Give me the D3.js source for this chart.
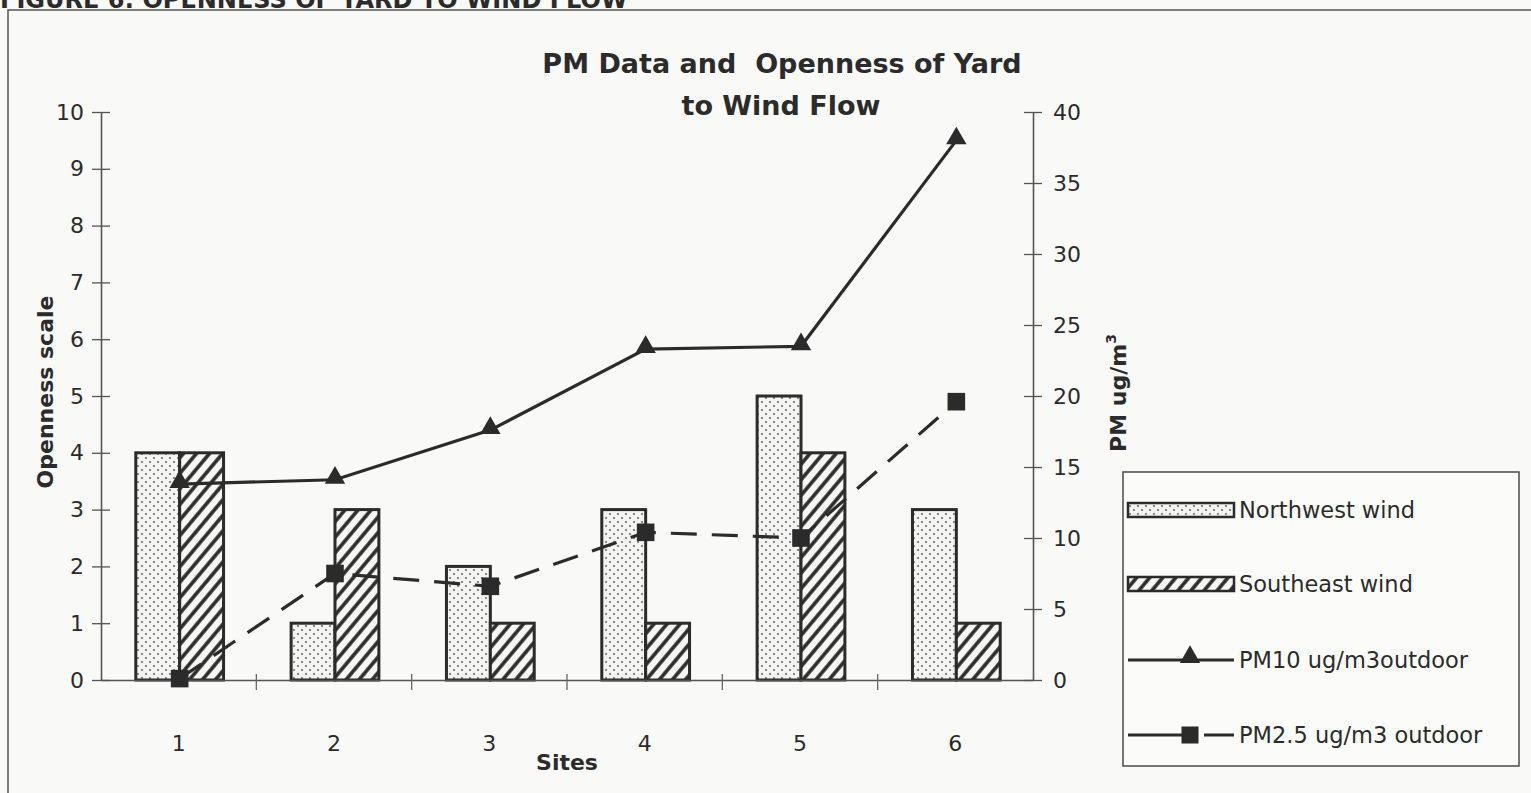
<!DOCTYPE html>
<html>
<head>
<meta charset="utf-8">
<script src="https://cdn.jsdelivr.net/npm/d3@7"></script>
<style>
  html, body { margin: 0; padding: 0; background: #f9f9f8; }
  svg { display: block; }
  text { font-family: "DejaVu Sans", "Liberation Sans", Arial, sans-serif; fill: #2b2b2b; }
</style>
</head>
<body>
<svg id="chart" width="1531" height="793"></svg>
<script>
// ---- data ----
const sites = ["1", "2", "3", "4", "5", "6"];
const northwestWind = [4, 1, 2, 3, 5, 3];
const southeastWind = [4, 3, 1, 1, 4, 1];
const pm10Outdoor = [13.8, 14.1, 17.6, 23.3, 23.5, 38.0];
const pm25Outdoor = [0.1, 7.5, 6.6, 10.4, 10.0, 19.6];
const leftTicks = [0, 1, 2, 3, 4, 5, 6, 7, 8, 9, 10];
const rightTicks = [0, 5, 10, 15, 20, 25, 30, 35, 40];
const legendLabels = ["Northwest wind", "Southeast wind", "PM10 ug/m3outdoor", "PM2.5 ug/m3 outdoor"];

const svg = d3.select("#chart");
const ink = "#2b2b2b";
const FONT = '"DejaVu Sans", "Liberation Sans", Arial, sans-serif';

// ---- patterns ----
const defs = svg.append("defs");
const dots = defs.append("pattern").attr("id", "dots").attr("patternUnits", "userSpaceOnUse")
  .attr("width", 8).attr("height", 8);
dots.append("rect").attr("width", 8).attr("height", 8).attr("fill", "#f3f3f2");
dots.append("circle").attr("cx", 2).attr("cy", 2).attr("r", 0.9).attr("fill", "#555");
dots.append("circle").attr("cx", 6).attr("cy", 6).attr("r", 0.9).attr("fill", "#555");
const hatch = defs.append("pattern").attr("id", "hatch").attr("patternUnits", "userSpaceOnUse")
  .attr("width", 10).attr("height", 10).attr("patternTransform", "rotate(40)");
hatch.append("rect").attr("width", 10).attr("height", 10).attr("fill", "#f6f6f5");
hatch.append("line").attr("x1", 2).attr("y1", 0).attr("x2", 2).attr("y2", 10)
  .attr("stroke", ink).attr("stroke-width", 3.6);

// ---- header (cut off at top, as in the scan) and frame ----
svg.append("text").attr("x", 0).attr("y", 8).attr("font-size", 24).attr("font-weight", "bold")
  .text("FIGURE 6: OPENNESS OF YARD TO WIND FLOW");
svg.append("rect").attr("x", 8).attr("y", 10).attr("width", 1560).attr("height", 820)
  .attr("fill", "none").attr("stroke", "#555").attr("stroke-width", 1.5);

// ---- scales ----
const pLeft = 101, pRight = 1033, pTop = 112, pBottom = 680;
const x = d3.scaleBand().domain(sites).range([pLeft, pRight]).padding(0);
const xs = d3.scaleBand().domain(["nw", "se"]).range([0, x.bandwidth()]).paddingInner(0).paddingOuter(0.77);
const yL = d3.scaleLinear().domain([0, 10]).range([pBottom, pTop]);
const yR = d3.scaleLinear().domain([0, 40]).range([pBottom, pTop]);

// ---- bars ----
const barData = sites.map((s, i) => ({ s, nw: northwestWind[i], se: southeastWind[i] }));
const g = svg.append("g");
g.selectAll("rect.nw").data(barData).join("rect").attr("class", "nw")
  .attr("x", d => x(d.s) + xs("nw") + 1).attr("width", xs.bandwidth())
  .attr("y", d => yL(d.nw)).attr("height", d => yL(0) - yL(d.nw))
  .attr("fill", "url(#dots)").attr("stroke", ink).attr("stroke-width", 3);
g.selectAll("rect.se").data(barData).join("rect").attr("class", "se")
  .attr("x", d => x(d.s) + xs("se") + 1).attr("width", xs.bandwidth())
  .attr("y", d => yL(d.se)).attr("height", d => yL(0) - yL(d.se))
  .attr("fill", "url(#hatch)").attr("stroke", ink).attr("stroke-width", 3);

// ---- axes ----
const axL = d3.axisLeft(yL).tickValues(leftTicks).tickSizeInner(9).tickSizeOuter(0).tickPadding(8);
const gL = svg.append("g").attr("transform", `translate(${pLeft},0)`).call(axL);
gL.selectAll(".tick line").attr("x2", 9).attr("x1", -9);
const axR = d3.axisRight(yR).tickValues(rightTicks).tickSizeInner(9).tickSizeOuter(0).tickPadding(11);
const gR = svg.append("g").attr("transform", `translate(${pRight},0)`).call(axR);
gR.selectAll(".tick line").attr("x1", -9).attr("x2", 9);
const axX = d3.axisBottom(x).tickSizeInner(0).tickSizeOuter(0).tickPadding(55);
const gX = svg.append("g").attr("transform", `translate(0,${pBottom})`).call(axX);
// boundary ticks between sites
gX.selectAll("line.sep").data(sites.slice(1)).join("line").attr("class", "sep")
  .attr("x1", d => x(d)).attr("x2", d => x(d)).attr("y1", -6).attr("y2", 10)
  .attr("stroke", "#666").attr("stroke-width", 1.3);
[gL, gR, gX].forEach(a => {
  a.select(".domain").attr("stroke", "#555").attr("stroke-width", 1.6);
  a.selectAll(".tick line").attr("stroke", "#555").attr("stroke-width", 1.3);
  a.selectAll(".tick text").attr("font-size", 22).attr("fill", ink).style("font-family", FONT);
});

// ---- lines ----
const cx = (d, i) => x(sites[i]) + x.bandwidth() / 2 + 1;
const lineGen = d3.line().x((d, i) => cx(d, i)).y(d => yR(d));
svg.append("path").datum(pm10Outdoor).attr("d", lineGen).attr("fill", "none")
  .attr("stroke", ink).attr("stroke-width", 3.2);
svg.append("path").datum(pm25Outdoor).attr("d", lineGen).attr("fill", "none")
  .attr("stroke", ink).attr("stroke-width", 3.2).attr("stroke-dasharray", "26,15");
const tri = d3.symbol().type(d3.symbolTriangle).size(180);
const sq = d3.symbol().type(d3.symbolSquare).size(310);
svg.selectAll("path.tri").data(pm10Outdoor).join("path").attr("class", "tri")
  .attr("d", tri).attr("transform", (d, i) => `translate(${cx(d, i)},${yR(d) - 2})`).attr("fill", ink);
svg.selectAll("path.sq").data(pm25Outdoor).join("path").attr("class", "sq")
  .attr("d", sq).attr("transform", (d, i) => `translate(${cx(d, i)},${yR(d)})`).attr("fill", ink);

// ---- titles ----
svg.append("text").attr("x", 782).attr("y", 73).attr("text-anchor", "middle")
  .attr("font-size", 27).attr("font-weight", "bold").style("white-space", "pre")
  .text("PM Data and  Openness of Yard");
svg.append("text").attr("x", 781).attr("y", 115).attr("text-anchor", "middle")
  .attr("font-size", 27).attr("font-weight", "bold").text("to Wind Flow");
svg.append("text").attr("transform", "translate(53,392) rotate(-90)").attr("text-anchor", "middle")
  .attr("font-size", 22).attr("font-weight", "bold").text("Openness scale");
const rt = svg.append("text").attr("transform", "translate(1126,393) rotate(-90)").attr("text-anchor", "middle")
  .attr("font-size", 22).attr("font-weight", "bold");
rt.append("tspan").text("PM ug/m");
rt.append("tspan").attr("dy", -10).attr("font-size", 14).text("3");
svg.append("text").attr("x", 567).attr("y", 770).attr("text-anchor", "middle")
  .attr("font-size", 22).attr("font-weight", "bold").text("Sites");

// ---- legend ----
const lg = svg.append("g");
lg.append("rect").attr("x", 1123).attr("y", 472).attr("width", 396).attr("height", 294)
  .attr("fill", "#fbfbfa").attr("stroke", "#555").attr("stroke-width", 1.6);
const rowY = [510, 584, 660, 735];
const sx0 = 1128, sx1 = 1234, smid = 1190;
lg.append("rect").attr("x", sx0).attr("y", rowY[0] - 7).attr("width", sx1 - sx0).attr("height", 14)
  .attr("fill", "url(#dots)").attr("stroke", ink).attr("stroke-width", 2.5);
lg.append("rect").attr("x", sx0).attr("y", rowY[1] - 7).attr("width", sx1 - sx0).attr("height", 14)
  .attr("fill", "url(#hatch)").attr("stroke", ink).attr("stroke-width", 2.5);
lg.append("line").attr("x1", sx0).attr("x2", sx1).attr("y1", rowY[2]).attr("y2", rowY[2])
  .attr("stroke", ink).attr("stroke-width", 3);
lg.append("path").attr("d", tri).attr("transform", `translate(${smid},${rowY[2] - 3})`).attr("fill", ink);
lg.append("line").attr("x1", sx0).attr("x2", smid - 4).attr("y1", rowY[3]).attr("y2", rowY[3])
  .attr("stroke", ink).attr("stroke-width", 3);
lg.append("line").attr("x1", smid + 14).attr("x2", sx1).attr("y1", rowY[3]).attr("y2", rowY[3])
  .attr("stroke", ink).attr("stroke-width", 3);
lg.append("path").attr("d", d3.symbol().type(d3.symbolSquare).size(290))
  .attr("transform", `translate(${smid},${rowY[3]})`).attr("fill", ink);
lg.selectAll("text.lab").data(legendLabels).join("text").attr("class", "lab")
  .attr("x", 1239).attr("y", (d, i) => rowY[i]).attr("dy", "0.36em")
  .attr("font-size", 22.5).text(d => d);
</script>
</body>
</html>
